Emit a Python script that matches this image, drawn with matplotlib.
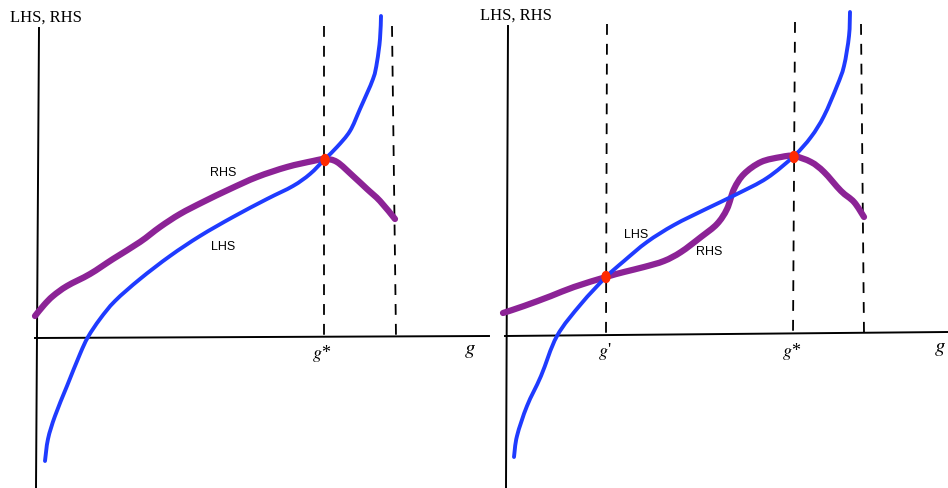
import matplotlib
matplotlib.use("Agg")
import matplotlib.pyplot as plt
from matplotlib.patches import Ellipse, PathPatch
from matplotlib.path import Path

plt.rcParams["mathtext.fontset"] = "stix"

W, H = 948, 489

# ---- Left panel (figure pixel coordinates, y downward) ----
L_yaxis = [(39, 29), (36, 489)]
L_xaxis = [(35, 339), (489, 337)]
L_dash = [[(324, 27), (324, 338)], [(392, 27), (396, 338)]]
L_rhs_x = [35, 44, 53, 67, 90, 113, 140, 160, 180, 203, 230, 257, 287, 313, 325, 337, 353, 367, 380, 395]
L_rhs_y = [317, 306, 297, 287, 275, 260, 243, 228, 215, 203, 190, 178, 168, 162, 160, 163, 177, 190, 202, 220]
L_lhs_x = [45, 48, 55, 67, 80, 88, 100, 115, 140, 170, 200, 233, 267, 293, 310, 325, 337, 350, 360, 373, 377, 380, 381]
L_lhs_y = [462, 440, 417, 387, 355, 338, 320, 302, 280, 257, 237, 218, 200, 187, 175, 160, 148, 132, 110, 80, 63, 40, 17]
L_eq = [(325, 161)]

# ---- Right panel ----
R_yaxis = [(508, 27), (506, 489)]
R_xaxis = [(505, 337), (948, 333)]
R_dash = [[(607, 25), (606, 335)], [(795, 23), (793, 335)], [(861, 25), (864, 335)]]
R_rhs_x = [503, 524, 551, 574, 606, 624, 644, 664, 681, 701, 717, 727, 734, 744, 761, 781, 794, 811, 824, 841, 854, 864]
R_rhs_y = [314, 307, 297, 288, 278, 273, 268, 262, 253, 238, 225, 210, 190, 175, 163, 158, 157, 163, 173, 192, 203, 218]
R_lhs_x = [514, 517, 527, 541, 557, 581, 606, 624, 647, 674, 706, 737, 767, 794, 811, 824, 837, 844, 849, 850]
R_lhs_y = [458, 437, 407, 377, 337, 305, 278, 262, 243, 226, 210, 195, 179, 157, 138, 117, 87, 67, 37, 13]
R_eq = [(606, 278), (794, 158)]

BLUE = "#1f3bff"
PURPLE = "#8c2396"
RED = "#ff2a00"

fig = plt.figure(figsize=(W / 100, H / 100), dpi=100)
ax = fig.add_axes([0, 0, 1, 1])
ax.set_xlim(0, W)
ax.set_ylim(H, 0)
ax.axis("off")

serif = ["Liberation Serif", "DejaVu Serif"]
sans = ["Liberation Sans", "DejaVu Sans"]


def seg(pts, **kw):
    ax.plot([p[0] for p in pts], [p[1] for p in pts], **kw)


def smooth_curve(xs, ys, color, lw):
    # Catmull-Rom through the read points, drawn as cubic Bezier segments
    pts = list(zip(xs, ys))
    verts = [pts[0]]
    codes = [Path.MOVETO]
    n = len(pts)
    for i in range(n - 1):
        p0 = pts[i - 1] if i > 0 else pts[i]
        p1 = pts[i]
        p2 = pts[i + 1]
        p3 = pts[i + 2] if i + 2 < n else pts[i + 1]
        c1 = (p1[0] + (p2[0] - p0[0]) / 6, p1[1] + (p2[1] - p0[1]) / 6)
        c2 = (p2[0] - (p3[0] - p1[0]) / 6, p2[1] - (p3[1] - p1[1]) / 6)
        verts += [c1, c2, p2]
        codes += [Path.CURVE4] * 3
    patch = PathPatch(Path(verts, codes), facecolor="none", edgecolor=color,
                      lw=lw, capstyle="round", joinstyle="round", zorder=3)
    ax.add_patch(patch)


for yaxis, xaxis, dashes in [(L_yaxis, L_xaxis, L_dash), (R_yaxis, R_xaxis, R_dash)]:
    seg(yaxis, color="black", lw=1.4)
    seg(xaxis, color="black", lw=1.4)
    for d in dashes:
        seg(d, color="black", lw=1.3, dashes=(6, 5))

smooth_curve(L_rhs_x, L_rhs_y, PURPLE, 4.5)
smooth_curve(L_lhs_x, L_lhs_y, BLUE, 2.8)
smooth_curve(R_rhs_x, R_rhs_y, PURPLE, 4.5)
smooth_curve(R_lhs_x, R_lhs_y, BLUE, 2.8)

for (x, y) in L_eq + R_eq:
    ax.add_patch(Ellipse((x, y), 8, 11, color=RED, zorder=5))

# texts
ax.text(10, 18, "LHS, RHS", family=serif, fontsize=12, ha="left", va="center")
ax.text(480, 16, "LHS, RHS", family=serif, fontsize=12, ha="left", va="center")
ax.text(322, 353, "$g$*", family=serif, fontsize=13, ha="center", va="center")
ax.text(470, 350, "$g$", family=serif, fontsize=15, ha="center", va="center")
ax.text(605, 351, "$g$'", family=serif, fontsize=13, ha="center", va="center")
ax.text(792, 351, "$g$*", family=serif, fontsize=13, ha="center", va="center")
ax.text(940, 348, "$g$", family=serif, fontsize=15, ha="center", va="center")
ax.text(223, 173, "RHS", family=sans, fontsize=9, ha="center", va="center")
ax.text(223, 247, "LHS", family=sans, fontsize=9, ha="center", va="center")
ax.text(636, 235, "LHS", family=sans, fontsize=9, ha="center", va="center")
ax.text(709, 252, "RHS", family=sans, fontsize=9, ha="center", va="center")

fig.savefig("out.png", dpi=100)
